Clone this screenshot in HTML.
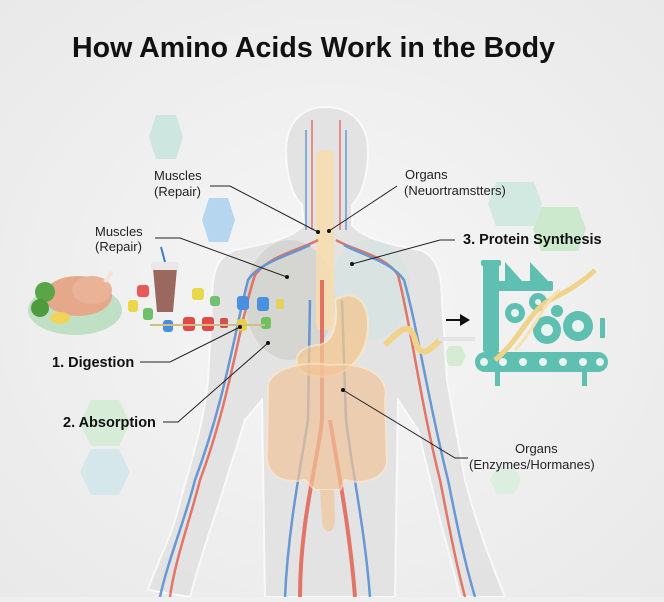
<!DOCTYPE html>
<html><head><meta charset="utf-8"><style>
html,body{margin:0;padding:0;}
body{width:664px;height:597px;overflow:hidden;background:#efefef;font-family:"Liberation Sans",Arial,sans-serif;}
</style></head><body>
<svg width="664" height="597" viewBox="0 0 664 597" xmlns="http://www.w3.org/2000/svg" font-family="Liberation Sans, Arial, sans-serif">
<defs>
<radialGradient id="bg" cx="50%" cy="50%" r="70%"><stop offset="0" stop-color="#f6f6f6"/><stop offset="1" stop-color="#e9e9e9"/></radialGradient>
</defs>
<rect width="664" height="597" fill="url(#bg)"/>
<g>
<polygon points="149,137 156,115 176,115 183,137 176,159 156,159" fill="#cde6e0"/>
<polygon points="202,220 209,198 228,198 235,220 228,242 209,242" fill="#b6d6ef"/>
<polygon points="488,204 496,182 534,182 542,204 534,226 496,226" fill="#d2e9e2"/>
<polygon points="533,229 541,207 578,207 586,229 578,251 541,251" fill="#cde9cd"/>
<polygon points="444,356 449,346 461,346 466,356 461,366 449,366" fill="#d4ecd4"/>
<polygon points="80,423 91,400 119,400 130,423 119,446 91,446" fill="#d6ecd6"/>
<polygon points="80,472 91,449 119,449 130,472 119,495 91,495" fill="#d6e7ec"/>
<polygon points="490,480 497,467 514,467 521,480 514,494 497,494" fill="#dbeee0"/>
</g>
<g fill="#e2e2e2" stroke="#fafafa" stroke-width="2" opacity="0.9">
<path d="M326,107 C300,107 286,125 286,150 C286,175 292,195 302,205 L304,225 C290,240 260,245 235,250 C216,256 212,275 212,300 L208,380 C203,430 188,470 178,510 C170,540 158,560 148,590 L190,597 C200,560 210,530 220,500 L245,420 L262,400 L265,597 L395,597 L398,400 L418,430 L440,520 C448,550 455,575 460,597 L505,597 C490,560 475,520 465,480 L447,380 L442,300 C442,275 437,256 420,250 C393,245 365,240 352,225 L352,205 C362,195 368,175 368,150 C368,125 352,107 326,107 Z"/>
</g>
<ellipse cx="290" cy="300" rx="45" ry="60" fill="#c8c8c2" opacity="0.5"/>
<ellipse cx="370" cy="290" rx="40" ry="50" fill="#cfe3e0" opacity="0.5"/>
<rect x="316" y="150" width="18" height="180" rx="6" fill="#f6ddb0" opacity="0.9"/>
<g fill="none" stroke-width="2.5" opacity="0.8">
<path d="M318,240 C300,250 270,255 255,275 C240,320 230,400 200,480 C190,520 175,560 170,597" stroke="#e05a4a"/>
<path d="M310,245 C290,255 260,262 248,280 C235,330 225,400 195,480 C185,520 168,560 160,597" stroke="#4a86d0"/>
<path d="M336,240 C352,250 385,255 398,275 C410,320 420,400 440,480 C448,520 455,560 465,597" stroke="#e05a4a"/>
<path d="M344,245 C362,255 392,262 404,280 C418,330 428,400 448,480 C456,520 464,560 475,597" stroke="#4a86d0"/>
<path d="M322,280 L322,420 C318,460 300,520 300,597" stroke="#e05a4a" stroke-width="4"/>
<path d="M330,420 C338,470 350,530 355,597" stroke="#e05a4a" stroke-width="4"/>
<path d="M310,300 L308,420 C300,470 288,530 285,597" stroke="#4a86d0"/>
<path d="M342,300 L346,420 C352,470 365,530 370,597" stroke="#4a86d0"/>
<path d="M312,120 L312,230 M340,120 L340,230" stroke="#e05a4a" stroke-width="1.5"/>
<path d="M306,130 L306,230 M346,130 L346,230" stroke="#4a86d0" stroke-width="1.5"/>
</g>
<path d="M335,300 C360,285 375,310 365,345 C355,375 320,385 300,370 C290,355 305,345 320,345 C335,340 338,320 335,300 Z" fill="#f4c890" opacity="0.75" stroke="#fbe7c4" stroke-width="2"/>
<path d="M268,390 C265,370 300,360 330,365 C365,362 390,375 385,400 L387,460 C387,480 360,485 345,480 L340,490 L315,490 L305,480 C275,485 265,470 267,450 Z" fill="#f2c49a" opacity="0.7" stroke="#fbe3c8" stroke-width="2"/>
<path d="M320,490 L322,520 C322,535 335,535 335,520 L334,490 Z" fill="#f2c49a" opacity="0.7"/>
<ellipse cx="75" cy="310" rx="47" ry="25" fill="#bfe0c4"/>
<ellipse cx="78" cy="296" rx="34" ry="20" fill="#e6a88a"/>
<ellipse cx="92" cy="290" rx="20" ry="14" fill="#eab296"/>
<circle cx="45" cy="292" r="10" fill="#5aa545"/><circle cx="40" cy="308" r="9" fill="#4e9b3d"/>
<ellipse cx="60" cy="318" rx="10" ry="6" fill="#f2d35a"/>
<path d="M105,282 L112,272" stroke="#f3e3d5" stroke-width="4"/>
<path d="M153,268 L177,268 L173,312 L157,312 Z" fill="#9b6860"/>
<rect x="151" y="262" width="28" height="8" rx="3" fill="#e8e8e8"/>
<line x1="165" y1="262" x2="161" y2="247" stroke="#3a7bd5" stroke-width="2"/>
<g stroke="none">
<rect x="128" y="300" width="10" height="12" rx="3" fill="#e8d84a"/>
<rect x="143" y="308" width="10" height="12" rx="3" fill="#6cc06a"/>
<rect x="137" y="285" width="12" height="12" rx="3" fill="#e85a5a"/>
<rect x="163" y="320" width="10" height="12" rx="3" fill="#4a8ee0"/>
<rect x="183" y="317" width="12" height="14" rx="3" fill="#e04a4a"/>
<rect x="202" y="317" width="12" height="14" rx="3" fill="#e04a4a"/>
<rect x="220" y="318" width="8" height="10" rx="2" fill="#d05050"/>
<rect x="237" y="319" width="10" height="12" rx="3" fill="#e8d040"/>
<rect x="261" y="317" width="10" height="12" rx="3" fill="#70c060"/>
<rect x="192" y="288" width="12" height="12" rx="3" fill="#e8d84a"/>
<rect x="210" y="296" width="10" height="10" rx="3" fill="#70c070"/>
<rect x="237" y="296" width="12" height="14" rx="3" fill="#4a90e0"/>
<rect x="257" y="297" width="12" height="14" rx="3" fill="#4a90e0"/>
<rect x="276" y="299" width="8" height="10" rx="2" fill="#e8d060"/>
<line x1="150" y1="325" x2="265" y2="325" stroke="#d0c080" stroke-width="2"/>
</g>
<path d="M385,345 C400,330 410,320 415,340 C420,360 430,350 440,340" stroke="#f0d28a" stroke-width="6" fill="none"/>
<line x1="438" y1="339" x2="475" y2="339" stroke="#e4e4e4" stroke-width="4"/>
<path d="M446,319 L460,319 L460,314 L470,320 L460,326 L460,321 L446,321 Z" fill="#111"/>
<g fill="#5fbfb0">
<rect x="483" y="262" width="16" height="90" rx="2"/>
<rect x="481" y="260" width="20" height="6" rx="2"/>
<rect x="483" y="281" width="70" height="10" rx="2"/>
<polygon points="505,262 505,281 522,281"/>
<polygon points="530,262 530,281 548,281"/>
<circle cx="515" cy="313" r="10"/><circle cx="538" cy="302" r="9"/><circle cx="547" cy="330" r="14"/><circle cx="578" cy="326" r="15"/><circle cx="557" cy="311" r="6"/>
<rect x="475" y="352" width="133" height="20" rx="10"/>
<rect x="495" y="370" width="5" height="16"/><rect x="582" y="370" width="5" height="16"/>
<rect x="600" y="318" width="5" height="20"/>
</g>
<g fill="#e8f4f2"><circle cx="515" cy="313" r="4"/><circle cx="547" cy="330" r="6"/><circle cx="578" cy="326" r="6"/><circle cx="538" cy="302" r="3"/></g>
<g fill="#e8f4f2"><circle cx="484" cy="362" r="4"/><circle cx="503" cy="362" r="4"/><circle cx="523" cy="362" r="4"/><circle cx="543" cy="362" r="4"/><circle cx="563" cy="362" r="4"/><circle cx="583" cy="362" r="4"/><circle cx="600" cy="362" r="4"/></g>
<path d="M495,360 C520,340 530,310 550,300 C570,290 585,280 595,270" stroke="#f0d28a" stroke-width="5" fill="none"/>
<path d="M515,350 C535,330 545,300 560,290" stroke="#f6e2b0" stroke-width="3" fill="none"/>
<text x="72" y="57" font-size="29" font-weight="bold" fill="#111" textLength="483" lengthAdjust="spacingAndGlyphs">How Amino Acids Work in the Body</text>
<g stroke="#222" stroke-width="1" fill="none">
<polyline points="210,186 230,186 318,232"/>
<polyline points="397,186 329,231"/>
<polyline points="155,238 180,238 287,277"/>
<polyline points="455,240 440,240 352,264"/>
<polyline points="140,362 170,362 240,327"/>
<polyline points="163,422 178,422 268,343"/>
<polyline points="468,458 455,458 343,390"/>
</g>
<g fill="#111"><circle cx="318" cy="232" r="2"/><circle cx="329" cy="231" r="2"/><circle cx="287" cy="277" r="2"/><circle cx="352" cy="264" r="2"/><circle cx="240" cy="327" r="2"/><circle cx="268" cy="343" r="2"/><circle cx="343" cy="390" r="2"/></g>
<g font-size="13" fill="#222">
<text x="154" y="180">Muscles</text><text x="154" y="196">(Repair)</text>
<text x="405" y="179">Organs</text><text x="404" y="195">(Neuortramstters)</text>
<text x="95" y="236">Muscles</text><text x="95" y="251">(Repair)</text>
<text x="515" y="453">Organs</text><text x="469" y="469">(Enzymes/Hormanes)</text>
</g>
<g font-size="14.5" font-weight="bold" fill="#111">
<text x="463" y="244">3. Protein Synthesis</text>
<text x="52" y="367">1. Digestion</text>
<text x="63" y="427">2. Absorption</text>
</g>
</svg>
</body></html>
